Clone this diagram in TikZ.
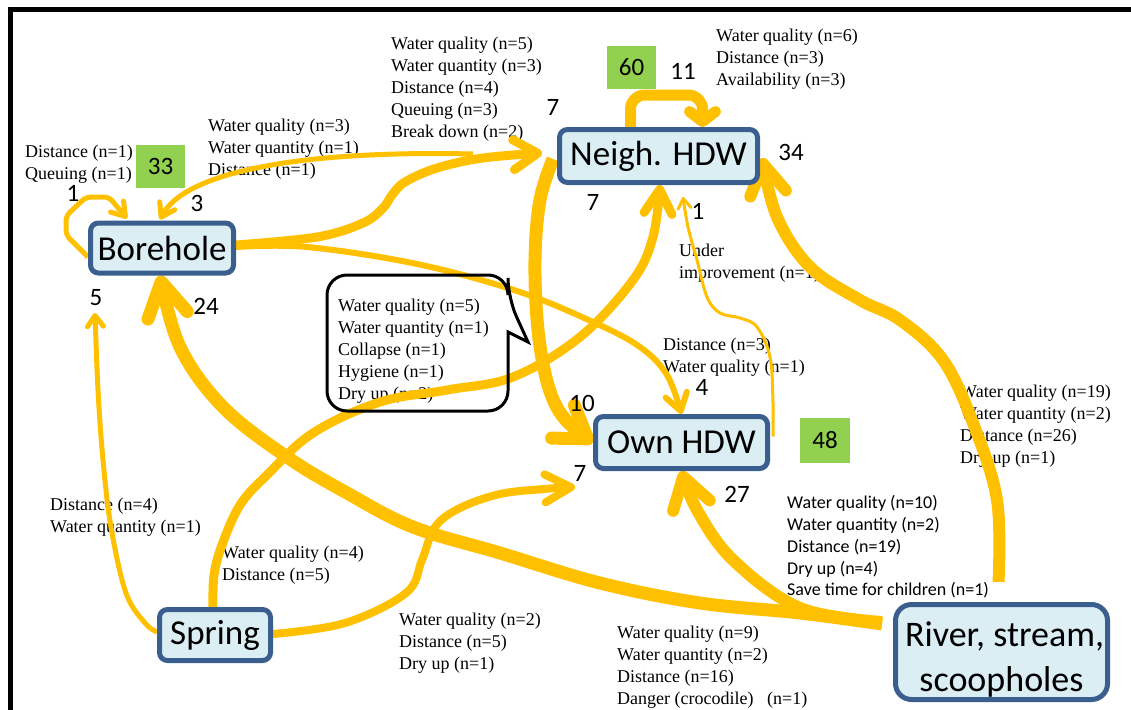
\documentclass[tikz,border=0pt]{standalone}
\usepackage{fontspec}
\setmainfont{Liberation Serif}
\newfontfamily\calfont{Carlito}
\usetikzlibrary{arrows.meta,backgrounds}
\definecolor{flow}{HTML}{FFC000}
\definecolor{boxline}{HTML}{3A5F8E}
\definecolor{boxfill}{HTML}{DBEEF4}
\definecolor{count}{HTML}{92D050}

\begin{document}
\begin{tikzpicture}[x=1pt,y=-1pt,
  src/.style={draw=boxline, line width=5pt, fill=boxfill, rounded corners=8pt,
    inner sep=0pt, font=\calfont\fontsize{35}{45}\selectfont},
  tally/.style={fill=count, inner sep=0pt, minimum width=49pt, minimum height=43pt,
    font=\calfont\fontsize{25}{30}\selectfont},
  num/.style={font=\calfont\fontsize{25}{30}\selectfont, inner sep=0pt},
  why/.style={font=\fontsize{18}{22}\selectfont, align=left, anchor=west, inner sep=0pt},
  whysans/.style={font=\calfont\fontsize{18}{21.8}\selectfont, align=left, anchor=west, inner sep=0pt},
  link/.style={draw=flow, line join=round},
  barb/.style 2 args={-{Straight Barb[round,length=#1,width=#2]}},
]
\useasboundingbox (0,0) rectangle (1131,709);

% water sources
\node[src, minimum width=143pt, minimum height=50pt] (bore) at (162,248) {Borehole};
\node[src, minimum width=198pt, minimum height=53pt] (neigh) at (658.5,156) {Neigh. HDW};
\node[src, minimum width=172pt, minimum height=52pt] (own) at (681.5,442.5) {Own HDW};
\node[src, minimum width=111pt, minimum height=51pt] (spring) at (215,635) {Spring};
\node[src, minimum width=212pt, minimum height=95pt, rounded corners=16pt, align=center,
  font=\calfont\fontsize{36}{45}\selectfont]
  (river) at (1001.5,652) {\rule{0pt}{39pt}\hspace{6pt}River, stream,\\scoopholes};

% totals per source
\node[tally] (g33) at (160.5,166.5) {33};
\node[tally] (g60) at (631.5,67.5) {60};
\node[tally, minimum width=50pt, minimum height=45pt] (g48) at (825,440.5) {48};

% loose ends of some flows
\coordinate (fromneigh) at (473,154);
\coordinate (b5) at (95,313);
\coordinate (o7) at (575,487);
\coordinate (n1) at (683,197);

% reasons callout
\draw[line width=3pt, rounded corners=20pt] (420,275) -- (508,275) -- (508,298)
  [sharp corners] -- (528,342) -- (508,332) [rounded corners=20pt] -- (508,411)
  -- (327,411) -- (327,275) -- cycle;

% switch counts
\node[num] (c1) at (73,193) {1};
\node[num] (c3) at (197,203) {3};
\node[num] (c5) at (96,298) {5};
\node[num] (c24) at (206,306) {24};
\node[num] (c7a) at (553,107) {7};
\node[num] (c11) at (683,71) {11};
\node[num] (c34) at (791,152) {34};
\node[num] (c7b) at (593,202) {7};
\node[num] (c1b) at (698,211) {1};
\node[num] (c4) at (702,387) {4};
\node[num] (c10) at (582,403) {10};
\node[num] (c7c) at (580,473) {7};
\node[num] (c27) at (737,494) {27};

\begin{scope}[on background layer]
% reasons for switching
\node[why] (t1) at (25,164) {Distance (n=1)\\Queuing (n=1)};
\node[why] (t2) at (208,149) {Water quality (n=3)\\Water quantity (n=1)\\Distance (n=1)};
\node[why] (t3) at (391,89) {Water quality (n=5)\\Water quantity (n=3)\\Distance (n=4)\\Queuing (n=3)\\Break down (n=2)};
\node[why] (t4) at (716,59) {Water quality (n=6)\\Distance (n=3)\\Availability (n=3)};
\node[why] (t5) at (679,263) {Under\\improvement (n=1)};
\node[why] (t6) at (663,357) {Distance (n=3)\\Water quality (n=1)};
\node[why] (t7) at (338,351) {Water quality (n=5)\\Water quantity (n=1)\\Collapse (n=1)\\Hygiene (n=1)\\Dry up (n=2)};
\node[why] (t8) at (960,426) {Water quality (n=19)\\Water quantity (n=2)\\Distance (n=26)\\Dry up (n=1)};
\node[whysans] (t9) at (787,547) {Water quality (n=10)\\Water quantity (n=2)\\Distance (n=19)\\Dry up (n=4)\\Save time for children (n=1)};
\node[why] (t10) at (617,667) {Water quality (n=9)\\Water quantity (n=2)\\Distance (n=16)\\Danger (crocodile)\ \ \ (n=1)};
\node[why] (t11) at (50,517) {Distance (n=4)\\Water quantity (n=1)};
\node[why] (t12) at (222,565) {Water quality (n=4)\\Distance (n=5)};
\node[why] (t13) at (399,643) {Water quality (n=2)\\Distance (n=5)\\Dry up (n=1)};

% flows between sources
\draw[link, line width=5pt, rounded corners=5pt, barb={13pt}{17pt}]
  ([yshift=-9pt]bore.west) -- (66,235) -- (66,216) -- (86,197) -- (109,197)
  -- ([xshift=-35pt,yshift=2pt]bore.north);
\draw[link, line width=5pt, barb={13pt}{17pt}]
  (fromneigh) .. controls (300,150) and (185,172) .. ([xshift=-2pt,yshift=1pt]bore.north);
\draw[link, line width=9pt, barb={24pt}{30pt}] plot[smooth, tension=0.6] coordinates {
  ([yshift=3pt]bore.east) (317,237) (363,223) (383,208) (392,195) (405,182) (437,168) (483,158)
  ([xshift=-15pt,yshift=3pt]neigh.west)};
\draw[link, line width=6pt, barb={17pt}{22pt}] plot[smooth, tension=0.6] coordinates {
  ([yshift=1pt]bore.east) (307,247) (417,264) (517,291) (593,322) (640,347) (667,375) (own.north)};
\draw[link, line width=5pt, barb={11pt}{16pt}] plot[smooth, tension=0.6] coordinates {
  ([yshift=3pt]spring.west) (145,623) (126,593) (111,527) (103,460) (98,390) (b5)};
\draw[link, line width=13pt, barb={34pt}{40pt}] plot[smooth, tension=0.6] coordinates {
  ([xshift=-11pt,yshift=28pt]river.west) (800,613) (700,603) (600,583) (500,553) (413,527)
  (347,493) (287,457) (223,407) (180,347) ([xshift=-2pt]bore.south)};
\draw[link, line width=12pt, barb={30pt}{38pt}] plot[smooth, tension=0.6] coordinates {
  ([xshift=-11pt,yshift=30pt]river.west) (800,608) (733,560) (697,510) (own.south)};
\draw[link, line width=12pt, barb={30pt}{36pt}] plot[smooth, tension=0.6] coordinates {
  ([xshift=-3pt,yshift=20pt]river.north) (997,500) (973,423) (943,360) (900,320) (860,300)
  (810,267) (777,217) ([xshift=2pt,yshift=-2pt]neigh.east)};
\draw[link, line width=11pt, rounded corners=14pt, barb={10pt}{26pt}]
  ([xshift=-28pt]neigh.north) -- ++(0,-32) -- ++(72,0) -- ([xshift=44pt]neigh.north);
\draw[link, line width=13pt, barb={30pt}{40pt}] plot[smooth, tension=0.6] coordinates {
  ([xshift=-4pt,yshift=-3pt]neigh.west) (540,200) (535,260) (538,330) (548,385) (564,418) (own.west)};
\draw[link, line width=9pt, barb={24pt}{28pt}] plot[smooth, tension=0.6] coordinates {
  ([xshift=-2pt]spring.north) (214,575) (222,545) (240,505) (267,475) (313,433) (380,402)
  (447,390) (513,377) (580,337) (633,280) (653,237) ([xshift=1.5pt]neigh.south)};
\draw[link, line width=8pt, barb={26pt}{28pt}] plot[smooth, tension=0.6] coordinates {
  ([yshift=1pt]spring.east) (345,623) (406,593) (422,560) (435,527) (460,508) (500,494) (544,489) (o7)};
\draw[link, line width=3pt, barb={10pt}{13pt}] plot[smooth, tension=0.6] coordinates {
  ([xshift=3pt,yshift=6pt]own.east) (773,403) (770,357) (757,327) (740,318) (720,313) (707,297)
  (697,260) (688,227) (n1)};
\end{scope}

% outer frame
\draw[line width=5pt] (10,10) rectangle (1145,725);
\end{tikzpicture}
\end{document}
